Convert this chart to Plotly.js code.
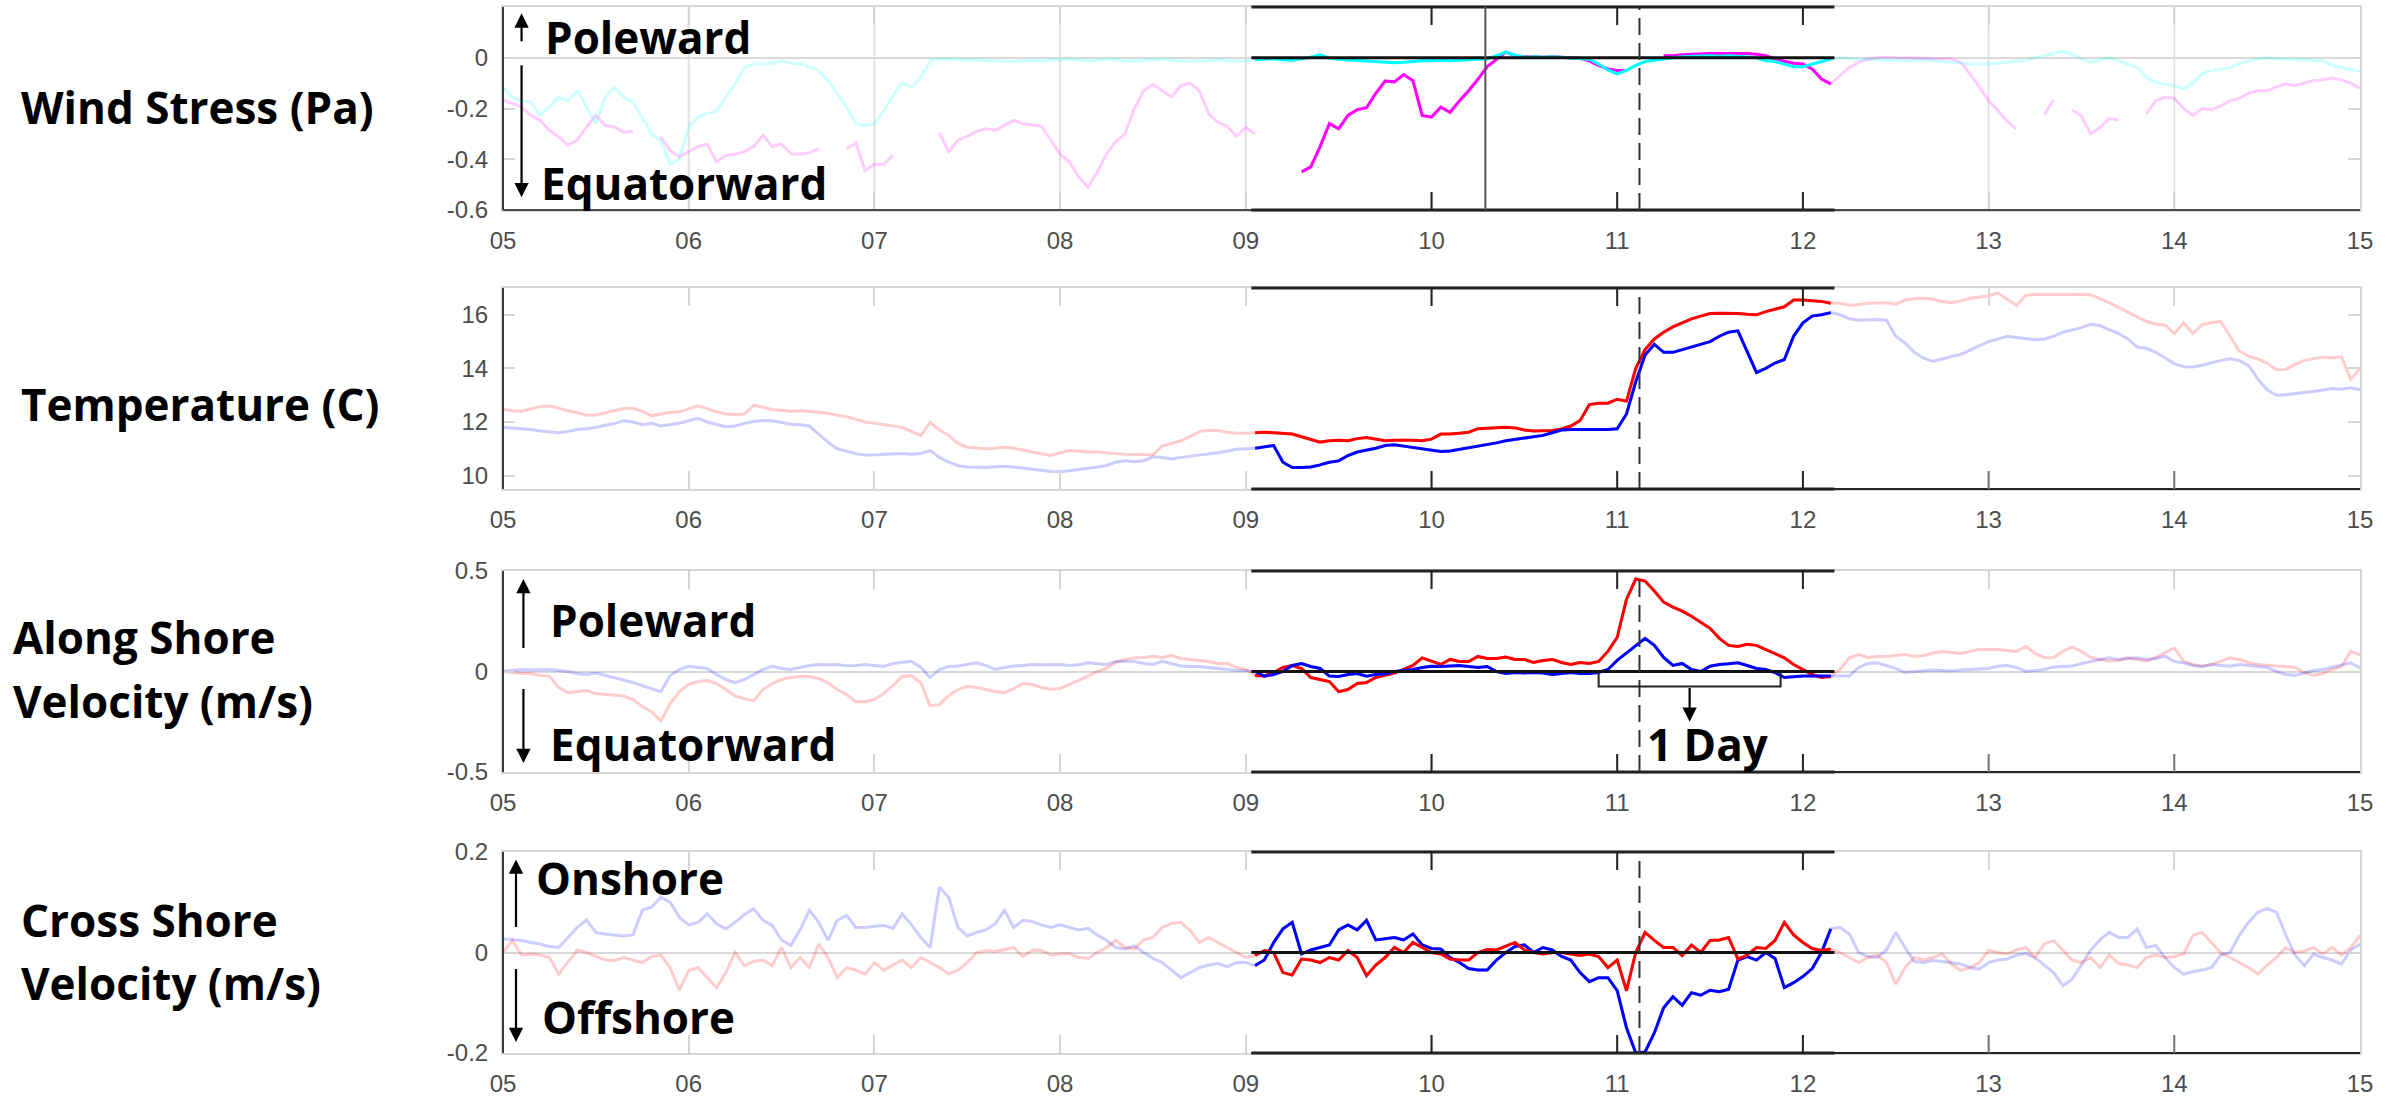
<!DOCTYPE html>
<html>
<head>
<meta charset="utf-8">
<script src="https://cdn.plot.ly/plotly-3.0.1.min.js"></script>
<style>html,body{margin:0;padding:0;background:#fff;}#chart{width:2404px;height:1097px;}</style>
</head>
<body>
<div id="chart"></div>
<script>
// ---------------- DATA (sampled every 0.05 day, day 05 .. 15) ----------------
const DAY_START = 5;
const DAY_STEP = 0.05;
const dayTicks = [5, 6, 7, 8, 9, 10, 11, 12, 13, 14, 15];
const dayTickText = ['05', '06', '07', '08', '09', '10', '11', '12', '13', '14', '15'];

// Wind stress (Pa)
const windCyan = [
 -0.116,-0.156,-0.17,-0.175,-0.227,-0.195,-0.156,-0.17,-0.13,-0.195,-0.26,-0.156,-0.114,-0.156,-0.175,-0.234,-0.30,-0.325,-0.42,-0.40,
 -0.273,-0.234,-0.22,-0.21,-0.156,-0.103,-0.038,-0.025,-0.025,-0.022,-0.012,-0.022,-0.025,-0.038,-0.05,-0.09,-0.14,-0.195,-0.26,-0.267,
 -0.26,-0.21,-0.15,-0.097,-0.116,-0.077,-0.012,-0.005,-0.006,-0.008,-0.008,-0.01,-0.012,-0.012,-0.015,-0.015,-0.012,-0.01,-0.012,-0.01,
 -0.008,-0.006,-0.008,-0.012,-0.01,-0.006,-0.008,-0.012,-0.015,-0.01,-0.008,-0.006,-0.01,-0.012,-0.015,-0.012,-0.012,-0.008,-0.01,-0.014,
 -0.012,-0.008,-0.006,-0.004,-0.008,-0.01,-0.004,0.002,0.012,-0.002,-0.006,-0.008,-0.01,-0.012,-0.015,-0.018,-0.02,-0.018,-0.015,-0.012,
 -0.012,-0.01,-0.012,-0.01,-0.008,-0.006,-0.004,0.008,0.022,0.01,0.002,0.004,0.002,0.004,0.002,0.0,-0.002,-0.006,-0.025,-0.048,
 -0.064,-0.05,-0.03,-0.015,-0.01,-0.004,0.0,0.004,0.006,0.008,0.008,0.006,0.008,0.006,0.004,0.0,-0.012,-0.015,-0.025,-0.035,
 -0.035,-0.025,-0.015,-0.005,0.0,-0.004,-0.006,-0.008,-0.008,-0.01,-0.01,-0.012,-0.01,-0.008,-0.012,-0.015,-0.018,-0.022,-0.025,-0.025,
 -0.025,-0.022,-0.018,-0.014,-0.01,0.0,0.008,0.015,0.025,0.014,-0.005,-0.018,-0.01,0.0,-0.012,-0.025,-0.038,-0.077,-0.097,-0.103,
 -0.11,-0.123,-0.10,-0.064,-0.05,-0.045,-0.038,-0.025,-0.012,-0.005,0.0,-0.004,-0.006,-0.008,-0.008,-0.01,-0.012,-0.03,-0.038,-0.044,
 -0.054
];
const windMagenta = [
 -0.166,-0.18,-0.195,-0.227,-0.247,-0.286,-0.312,-0.345,-0.325,-0.273,-0.227,-0.267,-0.273,-0.293,-0.29,null,null,-0.312,-0.365,-0.39,
 -0.37,-0.35,-0.34,-0.41,-0.385,-0.38,-0.37,-0.35,-0.306,-0.35,-0.34,-0.378,-0.38,-0.375,-0.358,null,null,-0.36,-0.335,-0.445,
 -0.42,-0.42,-0.385,null,null,null,null,-0.295,-0.37,-0.325,-0.31,-0.29,-0.28,-0.286,-0.265,-0.247,-0.26,-0.266,-0.27,-0.325,
 -0.38,-0.41,-0.47,-0.51,-0.45,-0.38,-0.33,-0.3,-0.2,-0.13,-0.105,-0.13,-0.155,-0.11,-0.1,-0.13,-0.22,-0.255,-0.27,-0.31,
 -0.275,-0.30,null,null,null,null,-0.45,-0.43,-0.35,-0.26,-0.28,-0.227,-0.205,-0.197,-0.14,-0.092,-0.095,-0.066,-0.09,-0.227,
 -0.234,-0.195,-0.215,-0.17,-0.13,-0.085,-0.035,-0.005,0.022,0.008,0.004,0.004,0.002,0.004,0.002,0.0,-0.002,-0.012,-0.03,-0.044,
 -0.05,-0.05,null,null,null,0.008,0.008,0.012,0.014,0.016,0.017,0.017,0.017,0.017,0.017,0.014,0.008,-0.005,-0.015,-0.022,
 -0.025,-0.044,-0.084,-0.103,-0.07,-0.038,-0.018,-0.005,0.0,0.002,0.0,0.0,-0.002,-0.002,-0.004,-0.004,-0.005,-0.018,-0.064,-0.116,
 -0.17,-0.208,-0.25,-0.28,null,null,-0.225,-0.165,null,-0.205,-0.23,-0.3,-0.275,-0.24,-0.245,null,null,-0.22,-0.17,-0.156,
 -0.16,-0.2,-0.227,-0.2,-0.205,-0.19,-0.17,-0.16,-0.14,-0.13,-0.13,-0.115,-0.103,-0.11,-0.1,-0.09,-0.088,-0.08,-0.088,-0.1,
 -0.12
];

// Temperature (C)
const tempRed = [
 12.48,12.42,12.4,12.5,12.58,12.6,12.5,12.42,12.35,12.25,12.26,12.35,12.42,12.5,12.52,12.4,12.23,12.3,12.36,12.38,
 12.48,12.6,12.5,12.38,12.3,12.28,12.3,12.62,12.55,12.46,12.44,12.4,12.42,12.4,12.36,12.33,12.25,12.2,12.1,12.0,
 11.95,11.9,11.85,11.8,11.65,11.49,11.99,11.7,11.5,11.2,11.06,11.03,11.0,11.02,11.06,11.02,10.95,10.88,10.8,10.75,
 10.85,10.94,10.92,10.88,10.88,10.84,10.82,10.8,10.8,10.79,10.78,11.1,11.2,11.3,11.45,11.65,11.68,11.68,11.62,11.58,
 11.58,11.6,11.62,11.6,11.58,11.55,11.45,11.35,11.25,11.3,11.32,11.3,11.38,11.42,11.35,11.3,11.32,11.33,11.32,11.3,
 11.36,11.55,11.55,11.58,11.62,11.75,11.76,11.78,11.8,11.78,11.7,11.66,11.66,11.68,11.74,11.85,12.05,12.65,12.7,12.7,
 12.85,12.78,14.0,14.7,15.1,15.35,15.55,15.7,15.85,15.95,16.05,16.06,16.06,16.05,16.02,16.0,16.12,16.2,16.3,16.55,
 16.55,16.52,16.5,16.43,16.43,16.36,16.38,16.43,16.45,16.45,16.4,16.55,16.6,16.62,16.58,16.5,16.45,16.52,16.62,16.66,
 16.7,16.82,16.6,16.35,16.72,16.76,16.77,16.77,16.77,16.77,16.76,16.74,16.6,16.45,16.28,16.1,15.95,15.75,15.66,15.62,
 15.3,15.7,15.3,15.63,15.7,15.75,15.2,14.65,14.46,14.35,14.2,13.95,13.96,14.15,14.3,14.35,14.42,14.4,14.43,13.6,
 14.0
];
const tempBlue = [
 11.8,11.77,11.76,11.72,11.66,11.62,11.6,11.65,11.72,11.75,11.8,11.88,11.94,12.05,12.0,11.9,11.95,11.85,11.9,11.95,
 12.05,12.14,12.0,11.9,11.82,11.85,11.95,12.02,12.06,12.05,11.98,11.92,11.9,11.85,11.55,11.25,11.0,10.9,10.82,10.76,
 10.78,10.8,10.8,10.82,10.8,10.82,10.94,10.68,10.5,10.38,10.32,10.3,10.3,10.33,10.35,10.32,10.28,10.26,10.2,10.15,
 10.14,10.18,10.22,10.26,10.32,10.38,10.5,10.55,10.52,10.55,10.7,10.68,10.62,10.68,10.72,10.75,10.8,10.85,10.92,10.98,
 11.0,11.02,11.08,11.12,10.5,10.3,10.3,10.32,10.4,10.5,10.55,10.75,10.88,10.95,11.02,11.12,11.15,11.1,11.05,10.98,
 10.94,10.9,10.92,10.98,11.05,11.1,11.15,11.22,11.3,11.35,11.38,11.45,11.5,11.6,11.7,11.72,11.72,11.72,11.72,11.72,
 11.75,12.3,13.5,14.5,14.9,14.6,14.6,14.7,14.8,14.9,15.0,15.2,15.35,15.4,14.6,13.85,14.0,14.2,14.33,15.2,
 15.7,15.95,16.0,16.08,16.0,15.85,15.8,15.82,15.82,15.8,15.2,14.95,14.6,14.38,14.27,14.35,14.45,14.52,14.7,14.85,
 15.0,15.1,15.2,15.15,15.1,15.07,15.1,15.2,15.35,15.44,15.52,15.65,15.6,15.45,15.3,15.1,14.8,14.75,14.6,14.4,
 14.18,14.06,14.05,14.12,14.22,14.3,14.36,14.3,14.1,13.6,13.2,13.0,13.02,13.05,13.1,13.14,13.2,13.25,13.22,13.28,
 13.2
];

// Along shore velocity (m/s)
const alongRed = [
 0.0,-0.005,-0.01,-0.01,-0.02,-0.023,-0.08,-0.105,-0.1,-0.095,-0.11,-0.114,-0.118,-0.122,-0.14,-0.175,-0.2,-0.246,-0.16,-0.1,
 -0.064,-0.05,-0.045,-0.06,-0.09,-0.122,-0.135,-0.145,-0.09,-0.06,-0.04,-0.03,-0.025,-0.025,-0.035,-0.056,-0.09,-0.115,-0.15,-0.15,
 -0.139,-0.11,-0.07,-0.025,-0.02,-0.056,-0.17,-0.165,-0.12,-0.09,-0.075,-0.08,-0.09,-0.1,-0.105,-0.085,-0.06,-0.065,-0.08,-0.088,
 -0.085,-0.065,-0.045,-0.023,0.0,0.015,0.045,0.06,0.068,0.07,0.076,0.07,0.08,0.065,0.06,0.055,0.05,0.04,0.04,0.02,
 0.01,-0.02,-0.022,-0.005,0.02,0.03,0.015,-0.03,-0.04,-0.05,-0.1,-0.09,-0.06,-0.055,-0.03,-0.018,-0.008,0.01,0.03,0.068,
 0.05,0.035,0.06,0.05,0.05,0.075,0.065,0.065,0.072,0.06,0.06,0.045,0.055,0.06,0.045,0.035,0.045,0.04,0.05,0.1,
 0.17,0.36,0.46,0.45,0.4,0.345,0.32,0.3,0.275,0.245,0.215,0.165,0.13,0.125,0.135,0.13,0.11,0.09,0.068,0.035,
 0.01,-0.015,-0.03,-0.025,0.01,0.068,0.084,0.07,0.075,0.075,0.08,0.085,0.075,0.08,0.092,0.1,0.095,0.09,0.1,0.11,
 0.11,0.11,0.105,0.1,0.125,0.09,0.07,0.068,0.1,0.122,0.1,0.07,0.06,0.052,0.055,0.068,0.06,0.052,0.07,0.095,
 0.117,0.052,0.035,0.026,0.035,0.05,0.068,0.06,0.045,0.035,0.03,0.027,0.025,0.02,-0.005,-0.02,-0.01,0.01,0.025,0.1,
 0.083
];
const alongBlue = [
 0.0,0.005,0.01,0.008,0.01,0.01,0.005,0.0,-0.01,-0.015,-0.008,-0.02,-0.03,-0.045,-0.055,-0.07,-0.085,-0.1,-0.02,0.01,
 0.026,0.02,0.015,-0.015,-0.04,-0.056,-0.04,-0.015,0.01,0.026,0.015,0.01,0.02,0.03,0.035,0.033,0.035,0.028,0.03,0.035,
 0.03,0.025,0.04,0.045,0.051,0.02,-0.03,0.01,0.025,0.027,0.035,0.043,0.03,0.01,0.02,0.027,0.03,0.035,0.033,0.035,
 0.035,0.03,0.033,0.043,0.04,0.035,0.05,0.05,0.05,0.04,0.035,0.051,0.04,0.027,0.025,0.025,0.02,0.015,0.01,0.005,
 0.005,0.0,-0.023,-0.015,0.0,0.03,0.04,0.025,0.015,-0.023,-0.025,-0.015,-0.01,-0.023,-0.015,-0.012,0.0,0.005,0.01,0.02,
 0.026,0.025,0.028,0.03,0.025,0.02,0.025,0.0,-0.01,-0.005,-0.008,-0.005,-0.008,-0.015,-0.01,-0.005,-0.01,-0.01,-0.005,0.01,
 0.055,0.092,0.13,0.165,0.13,0.07,0.03,0.04,0.01,0.0,0.026,0.035,0.038,0.043,0.03,0.015,0.01,-0.005,-0.03,-0.025,
 -0.022,-0.023,-0.022,-0.023,-0.02,-0.022,0.02,0.04,0.043,0.03,0.015,-0.005,0.0,0.002,0.008,0.005,0.002,0.008,0.01,0.01,
 0.015,0.026,0.03,0.02,0.0,0.005,0.01,0.022,0.026,0.027,0.04,0.051,0.06,0.068,0.06,0.065,0.068,0.06,0.065,0.076,
 0.05,0.043,0.03,0.025,0.035,0.03,0.026,0.035,0.03,0.026,0.02,0.0,-0.015,-0.02,-0.007,0.005,0.01,0.02,0.03,0.043,
 0.018
];

// Cross shore velocity (m/s)
const crossRed = [
 0.0,0.024,-0.005,-0.003,-0.005,-0.01,-0.043,-0.02,0.005,0.0,-0.008,-0.015,-0.016,-0.01,-0.015,-0.02,-0.008,-0.005,-0.03,-0.075,
 -0.036,-0.03,-0.05,-0.07,-0.04,0.0,-0.026,-0.018,-0.015,-0.026,0.01,-0.03,-0.01,-0.03,0.017,-0.01,-0.05,-0.03,-0.035,-0.043,
 -0.02,-0.035,-0.025,-0.015,-0.03,-0.01,-0.02,-0.03,-0.043,-0.035,-0.02,0.0,0.004,0.002,0.006,0.01,-0.008,0.005,0.004,-0.005,
 -0.003,-0.002,-0.01,-0.012,0.0,0.01,0.024,0.01,0.007,0.025,0.03,0.05,0.058,0.06,0.044,0.02,0.03,0.02,0.01,0.0,
 -0.01,-0.006,0.004,0.0,-0.04,-0.045,-0.013,-0.015,-0.02,-0.01,-0.015,0.004,-0.01,-0.046,-0.025,-0.01,0.01,0.0,0.02,0.01,
 0.0,-0.003,-0.013,-0.015,-0.015,0.0,0.006,0.005,0.013,0.02,0.005,0.0,-0.003,0.0,0.0,-0.003,-0.006,-0.003,-0.008,-0.03,
 -0.015,-0.076,0.0,0.04,0.024,0.01,0.01,-0.006,0.015,0.0,0.024,0.025,0.03,-0.013,-0.005,0.01,0.008,0.024,0.06,0.035,
 0.02,0.008,0.004,0.007,0.0,-0.01,-0.02,-0.01,-0.005,-0.02,-0.063,-0.03,-0.01,-0.015,-0.01,-0.003,-0.023,-0.036,-0.03,-0.02,
 0.004,0.0,-0.003,0.005,0.01,-0.01,0.017,0.024,0.005,-0.015,-0.02,-0.01,-0.03,-0.005,-0.022,-0.025,-0.03,-0.01,-0.005,-0.01,
 -0.008,-0.003,0.034,0.04,0.02,0.0,-0.01,-0.02,-0.03,-0.043,-0.025,-0.01,0.01,0.0,0.003,0.01,-0.003,0.01,-0.005,0.01,
 0.034
];
const crossBlue = [
 0.027,0.025,0.024,0.02,0.017,0.012,0.01,0.03,0.05,0.065,0.04,0.037,0.035,0.033,0.035,0.084,0.09,0.11,0.1,0.07,
 0.055,0.06,0.077,0.057,0.047,0.06,0.075,0.087,0.064,0.054,0.025,0.014,0.045,0.084,0.06,0.024,0.064,0.074,0.05,0.05,
 0.052,0.054,0.048,0.077,0.055,0.03,0.01,0.13,0.11,0.05,0.033,0.04,0.045,0.057,0.084,0.05,0.064,0.062,0.055,0.05,
 0.055,0.05,0.045,0.048,0.035,0.024,0.01,0.007,0.013,0.0,-0.012,-0.02,-0.035,-0.05,-0.04,-0.03,-0.025,-0.022,-0.028,-0.02,
 -0.02,-0.026,-0.015,0.02,0.047,0.06,-0.003,0.005,0.01,0.015,0.045,0.055,0.045,0.064,0.025,0.027,0.03,0.025,0.037,0.015,
 0.008,0.007,-0.01,-0.02,-0.032,-0.035,-0.035,-0.015,0.0,0.012,0.015,0.0,0.01,0.005,-0.008,-0.015,-0.04,-0.058,-0.05,-0.05,
 -0.076,-0.15,-0.2,-0.198,-0.16,-0.11,-0.088,-0.105,-0.08,-0.085,-0.075,-0.078,-0.073,-0.015,-0.008,-0.015,0.0,-0.012,-0.07,-0.06,
 -0.048,-0.032,0.0,0.047,0.05,0.037,0.0,-0.008,-0.01,0.005,0.04,0.01,-0.018,-0.02,-0.016,-0.018,-0.02,-0.023,-0.03,-0.033,
 -0.02,-0.015,-0.013,-0.005,-0.002,-0.01,-0.025,-0.04,-0.066,-0.053,-0.025,0.005,0.025,0.04,0.03,0.03,0.047,0.01,0.014,-0.01,
 -0.03,-0.043,-0.038,-0.035,-0.03,-0.005,0.0,0.034,0.06,0.08,0.088,0.08,0.035,-0.005,-0.026,-0.003,-0.01,-0.015,-0.023,0.005,
 0.017
];

// Event markers (days)
const HIGHLIGHT_START = 9.03;
const HIGHLIGHT_END = 12.17;
const WIND_REVERSAL = 10.29;
const EVENT_DAY = 11.12;

// ---------------- LAYOUT GEOMETRY ----------------
const W = 2404, H = 1097;
const px2x = p => p / W;
const px2y = p => 1 - p / H;
const X_DOMAIN = [px2x(503), px2x(2360)];
const PANELS = [
  { key: '',  top: 7,   bottom: 210, range: [-0.6, 0.2], tickvals: [-0.6, -0.4, -0.2, 0], ticktext: ['-0.6', '-0.4', '-0.2', '0'], zero: true, grid: true,
    series: [{ data: windMagenta, rgb: '255,0,255' }, { data: windCyan, rgb: '0,255,255' }] },
  { key: '2', top: 288, bottom: 489, range: [9.5, 17], tickvals: [10, 12, 14, 16], ticktext: ['10', '12', '14', '16'], zero: false, grid: false,
    series: [{ data: tempRed, rgb: '255,0,0' }, { data: tempBlue, rgb: '0,0,255' }] },
  { key: '3', top: 571, bottom: 772, range: [-0.5, 0.5], tickvals: [-0.5, 0, 0.5], ticktext: ['-0.5', '0', '0.5'], zero: true, grid: false,
    series: [{ data: alongRed, rgb: '255,0,0' }, { data: alongBlue, rgb: '0,0,255' }] },
  { key: '4', top: 852, bottom: 1053, range: [-0.2, 0.2], tickvals: [-0.2, 0, 0.2], ticktext: ['-0.2', '0', '0.2'], zero: true, grid: false,
    series: [{ data: crossBlue, rgb: '0,0,255' }, { data: crossRed, rgb: '255,0,0' }] }
];

const days = windCyan.map((_, i) => +(DAY_START + i * DAY_STEP).toFixed(2));

const TICK_FONT = { family: 'Liberation Sans, Arial, sans-serif', size: 24, color: '#4d4d4d' };
const LABEL_FONT = { family: 'Open Sans, sans-serif', size: 44, color: '#000' };
const LIGHT = '#d6d6d6';

const traces = [];
const layout = {
  width: W, height: H,
  margin: { l: 0, r: 0, t: 0, b: 0 },
  paper_bgcolor: '#fff', plot_bgcolor: '#fff',
  showlegend: false, hovermode: false,
  shapes: [], annotations: []
};

PANELS.forEach(p => {
  const xa = 'x' + p.key, ya = 'y' + p.key;
  const xName = 'xaxis' + p.key, yName = 'yaxis' + p.key;
  layout[xName] = {
    domain: X_DOMAIN, anchor: ya, range: [5, 15],
    tickmode: 'array', tickvals: dayTicks, ticktext: dayTickText,
    ticks: 'inside', ticklen: 18, tickwidth: 2, tickcolor: LIGHT,
    showline: true, linecolor: LIGHT, linewidth: 2, mirror: 'ticks',
    showgrid: false, zeroline: false, tickfont: TICK_FONT, ticklabelstandoff: 8, fixedrange: true
  };
  layout[yName] = {
    domain: [px2y(p.bottom), px2y(p.top)], anchor: xa, range: p.range,
    tickmode: 'array', tickvals: p.tickvals, ticktext: p.ticktext,
    ticks: 'inside', ticklen: 12, tickwidth: 2, tickcolor: LIGHT,
    showline: true, linecolor: LIGHT, linewidth: 2, mirror: 'ticks',
    showgrid: false, zeroline: p.zero, zerolinecolor: '#d9d9d9', zerolinewidth: 2,
    tickfont: TICK_FONT, ticklabelstandoff: 8, fixedrange: true
  };

  // faded full record
  p.series.forEach(s => {
    traces.push({ type: 'scatter', mode: 'lines', x: days, y: s.data, xaxis: xa, yaxis: ya,
      line: { color: 'rgba(' + s.rgb + ',0.2)', width: 3 }, connectgaps: false });
  });
  // highlighted event window
  p.series.forEach(s => {
    const hx = [], hy = [];
    days.forEach((d, i) => { if (d >= HIGHLIGHT_START - 1e-9 && d <= HIGHLIGHT_END + 1e-9) { hx.push(d); hy.push(s.data[i]); } });
    traces.push({ type: 'scatter', mode: 'lines', x: hx, y: hy, xaxis: xa, yaxis: ya,
      line: { color: 'rgb(' + s.rgb + ')', width: 3 }, connectgaps: false });
  });

  const S = layout.shapes;
  const xd = xa + ' domain', yd = ya + ' domain';
  const tickFrac = 18 / (p.bottom - p.top);
  // light day gridlines (panel 1) outside highlight window
  if (p.grid) {
    dayTicks.filter(t => t > 5 && t < 15 && (t < HIGHLIGHT_START || t > HIGHLIGHT_END)).forEach(t =>
      S.push({ type: 'line', xref: xa, yref: yd, x0: t, x1: t, y0: 0, y1: 1, line: { color: '#e2e2e2', width: 2 }, layer: 'below' }));
  }
  // dark left axis
  S.push({ type: 'line', xref: xd, yref: yd, x0: 0, x1: 0, y0: 0, y1: 1, line: { color: '#3a3a3a', width: 2 }, layer: 'above' });
  // bottom axis
  if (p.key === '') {
    S.push({ type: 'line', xref: xd, yref: yd, x0: 0, x1: 1, y0: 0, y1: 0, line: { color: '#4a4a4a', width: 2 }, layer: 'above' });
  } else {
    S.push({ type: 'line', xref: xa, yref: yd, x0: HIGHLIGHT_START, x1: 15, y0: 0, y1: 0, line: { color: '#262626', width: 2 }, layer: 'above' });
    [13, 14].forEach(t => S.push({ type: 'line', xref: xa, yref: yd, x0: t, x1: t, y0: 0, y1: tickFrac, line: { color: '#777', width: 2 }, layer: 'above' }));
  }
  // highlight box top/bottom + black ticks
  S.push({ type: 'line', xref: xa, yref: yd, x0: HIGHLIGHT_START, x1: HIGHLIGHT_END, y0: 1, y1: 1, line: { color: '#222', width: 3 }, layer: 'above' });
  S.push({ type: 'line', xref: xa, yref: yd, x0: HIGHLIGHT_START, x1: HIGHLIGHT_END, y0: 0, y1: 0, line: { color: '#222', width: 3 }, layer: 'above' });
  [10, 11, 12].forEach(t => {
    S.push({ type: 'line', xref: xa, yref: yd, x0: t, x1: t, y0: 0, y1: tickFrac, line: { color: '#222', width: 2 }, layer: 'above' });
    S.push({ type: 'line', xref: xa, yref: yd, x0: t, x1: t, y0: 1 - tickFrac, y1: 1, line: { color: '#222', width: 2 }, layer: 'above' });
  });
  // black zero line in highlight window
  if (p.zero) S.push({ type: 'line', xref: xa, yref: ya, x0: HIGHLIGHT_START, x1: HIGHLIGHT_END, y0: 0, y1: 0, line: { color: '#111', width: 3 }, layer: 'above' });
  // event line (dashed)
  S.push({ type: 'line', xref: xa, yref: yd, x0: EVENT_DAY, x1: EVENT_DAY, y0: 0, y1: 1, line: { color: '#333', width: 2, dash: '17px,8px' }, layer: 'above' });
  // wind reversal line (panel 1)
  if (p.key === '') S.push({ type: 'line', xref: xa, yref: yd, x0: WIND_REVERSAL, x1: WIND_REVERSAL, y0: 0, y1: 1, line: { color: '#555', width: 2 }, layer: 'above' });
});

// ---------------- TEXT / ARROWS ----------------
const A = layout.annotations;
function label(text, xpx, ypx) {
  A.push({ xref: 'paper', yref: 'paper', x: px2x(xpx), y: px2y(ypx), xanchor: 'left', yanchor: 'middle',
    text: '<b>' + text + '</b>', showarrow: false, font: LABEL_FONT });
}
function arrow(xa, ya, x, yTail, yTip) {
  A.push({ xref: xa, yref: ya, axref: xa, ayref: ya, x: x, y: yTip, ax: x, ay: yTail, text: '',
    showarrow: true, arrowhead: 2, arrowsize: 1.3, arrowwidth: 2.2, arrowcolor: '#000', standoff: 0, startstandoff: 0 });
}
// left labels
label('Wind Stress (Pa)', 19, 107);
label('Temperature (C)', 19, 404);
label('Along Shore', 11, 637);
label('Velocity (m/s)', 11, 701);
label('Cross Shore', 19, 920);
label('Velocity (m/s)', 19, 983);
// in-panel direction labels
label('Poleward', 543, 37);
label('Equatorward', 539, 183);
arrow('x', 'y', 5.10, 0.059, 0.175);
arrow('x', 'y', 5.10, -0.024, -0.55);
label('Poleward', 548, 620);
label('Equatorward', 548, 744);
arrow('x3', 'y3', 5.11, 0.109, 0.46);
arrow('x3', 'y3', 5.11, -0.08, -0.455);
label('Onshore', 534, 878);
label('Offshore', 540, 1017);
arrow('x4', 'y4', 5.07, 0.048, 0.185);
arrow('x4', 'y4', 5.07, -0.03, -0.178);
// 1 Day bracket
const DAY_BRACKET = [10.90, 11.88];
const BRACKET_DEPTH = -0.075;
layout.shapes.push({ type: 'path', xref: 'x3', yref: 'y3',
  path: 'M' + DAY_BRACKET[0] + ',0 L' + DAY_BRACKET[0] + ',' + BRACKET_DEPTH + ' L' + DAY_BRACKET[1] + ',' + BRACKET_DEPTH + ' L' + DAY_BRACKET[1] + ',0',
  line: { color: '#222', width: 2 }, layer: 'above' });
arrow('x3', 'y3', (DAY_BRACKET[0] + DAY_BRACKET[1]) / 2, BRACKET_DEPTH, -0.25);
label('1 Day', 1645, 744);

Plotly.newPlot('chart', traces, layout, { staticPlot: true, displayModeBar: false });
</script>
</body>
</html>
